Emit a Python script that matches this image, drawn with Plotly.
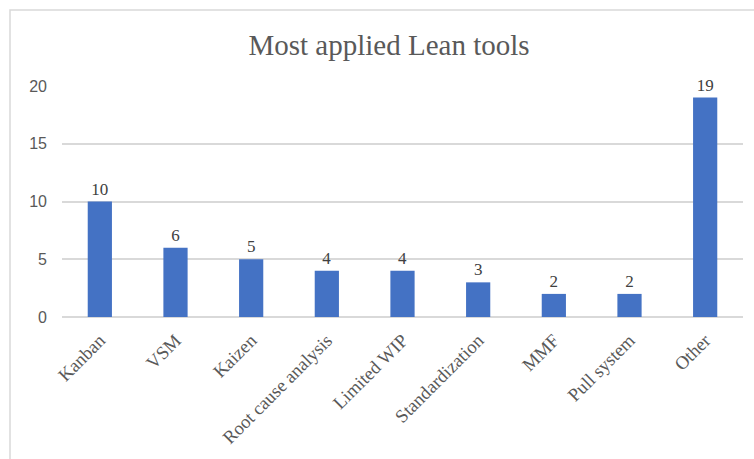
import plotly.graph_objects as go

tools = ["Kanban", "VSM", "Kaizen", "Root cause analysis", "Limited WIP",
         "Standardization", "MMF", "Pull system", "Other"]
counts = [10, 6, 5, 4, 4, 3, 2, 2, 19]
y_ticks = [0, 5, 10, 15, 20]

serif = "Liberation Serif, Times New Roman, serif"
sans = "Liberation Sans, Arial, sans-serif"

fig = go.Figure(
    go.Bar(
        x=tools,
        y=counts,
        marker=dict(color="#4472C4", line=dict(width=0)),
        text=[str(c) for c in counts],
        textposition="outside",
        textfont=dict(family=serif, size=17, color="#404040"),
        cliponaxis=False,
    )
)

L, R, T, B = 62, 11, 86, 139
W, H = 754, 459
pw, ph = W - L - R, H - T - B

# light frame around the chart area
fig.add_shape(
    type="rect", xref="paper", yref="paper",
    x0=(10 - L) / pw, x1=1.2, y0=-1.0, y1=1 + (T - 9) / ph,
    line=dict(color="#D9D9D9", width=1.5), fillcolor="rgba(0,0,0,0)", layer="below",
)

fig.update_layout(
    width=W, height=H,
    margin=dict(l=L, r=R, t=T, b=B),
    paper_bgcolor="white", plot_bgcolor="white",
    bargap=0.68,
    showlegend=False,
    title=dict(
        text="Most applied Lean tools",
        x=389 / W, xref="container", xanchor="center",
        y=1 - 45 / H, yanchor="middle",
        font=dict(family=serif, size=29, color="#595959"),
    ),
    xaxis=dict(
        tickangle=-45,
        tickfont=dict(family=serif, size=18.5, color="#595959"),
        showline=False, ticks="", showgrid=False,
        ticklabelstandoff=8,
    ),
    yaxis=dict(
        range=[0, 20], tickvals=y_ticks,
        tickfont=dict(family=sans, size=16, color="#595959"),
        gridcolor="#D9D9D9", gridwidth=1.5,
        zeroline=True, zerolinecolor="#D9D9D9", zerolinewidth=1.5,
        showline=False, ticks="",
        ticklabelstandoff=14,
    ),
)

fig.write_html("out.html")
